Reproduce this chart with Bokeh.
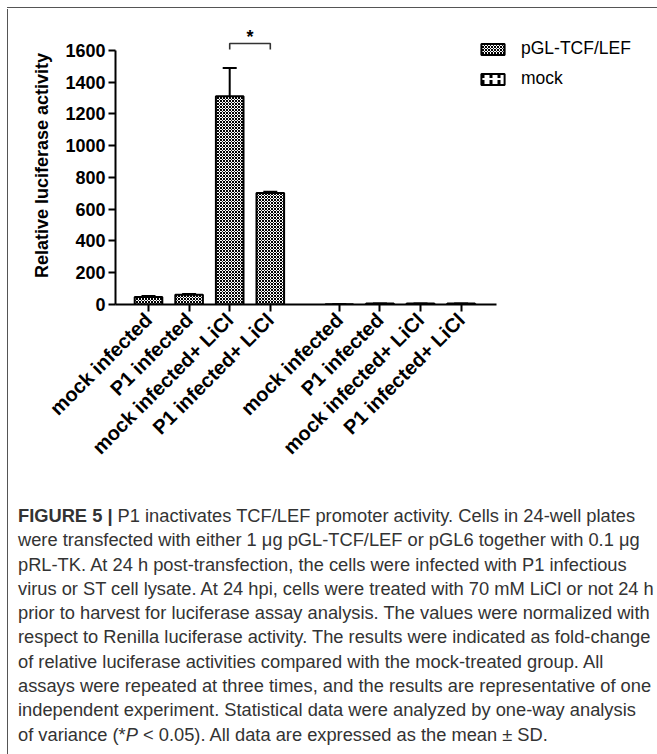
import math

from bokeh.core.properties import value
from bokeh.embed import file_html
from bokeh.layouts import column, row
from bokeh.models import (ColumnDataSource, Div, FixedTicker, Legend,
                          LegendItem, TeeHead, Whisker)
from bokeh.plotting import figure
from bokeh.resources import INLINE

# ---- data -------------------------------------------------------------
conditions = ["mock infected", "P1 infected",
              "mock infected+ LiCl", "P1 infected+ LiCl"]
series = ["pGL-TCF/LEF", "mock"]
pgl_mean = [48, 62, 1311, 703]
pgl_sd = [5, 4, 178, 7]
mock_mean = [1, 6, 6, 6]
mock_sd = [0, 1, 1, 1]
y_ticks = [0, 200, 400, 600, 800, 1000, 1200, 1400, 1600]
sig_pair = (2, 3)          # conditions compared within the pGL-TCF/LEF group
sig_mark = "*"

caption_lines = [
    "<b>FIGURE 5 |</b> P1 inactivates TCF/LEF promoter activity. Cells in 24-well plates",
    "were transfected with either 1 \u03bcg pGL-TCF/LEF or pGL6 together with 0.1 \u03bcg",
    "pRL-TK. At 24 h post-transfection, the cells were infected with P1 infectious",
    "virus or ST cell lysate. At 24 hpi, cells were treated with 70 mM LiCl or not 24 h",
    "prior to harvest for luciferase assay analysis. The values were normalized with",
    "respect to Renilla luciferase activity. The results were indicated as fold-change",
    "of relative luciferase activities compared with the mock-treated group. All",
    "assays were repeated at three times, and the results are representative of one",
    "independent experiment. Statistical data were analyzed by one-way analysis",
    "of variance (*<i>P</i> &lt; 0.05). All data are expressed as the mean \u00b1 SD.",
]

# ---- layout helpers ---------------------------------------------------
GROUP_STEP = 4.7           # distance between the first bars of the two groups
BAR_W = 0.68
FONT = "Liberation Sans"
RULE_COLOR = "#555555"
RULE = f"1.5px solid {RULE_COLOR}"
NO_STRUT = {"font-size": "0px", "line-height": "0px"}

def positions(group):
    return [group * GROUP_STEP + i for i in range(len(conditions))]

x_pgl = positions(0)
x_mock = positions(1)

src_pgl = ColumnDataSource(dict(
    x=x_pgl, top=pgl_mean,
    upper=[m + s for m, s in zip(pgl_mean, pgl_sd)]))
src_mock = ColumnDataSource(dict(
    x=x_mock, top=mock_mean,
    upper=[m + s for m, s in zip(mock_mean, mock_sd)]))

p = figure(width=648, height=486, x_range=(-0.813, 12.537), y_range=(0, 1751),
           output_backend="svg", toolbar_location=None,
           min_border_left=106, min_border_right=0,
           min_border_top=17, min_border_bottom=191, margin=0)
p.outline_line_color = None
p.xgrid.visible = False
p.ygrid.visible = False
p.background_fill_color = "white"
p.border_fill_color = "white"

# bars
r_pgl = p.vbar(x="x", top="top", width=BAR_W, source=src_pgl,
               fill_color="white", line_color="black", line_width=2,
               hatch_pattern="diagonal_cross", hatch_scale=3,
               hatch_weight=1, hatch_color="black")
r_mock = p.vbar(x="x", top="top", width=BAR_W, source=src_mock,
                fill_color="white", line_color="black", line_width=2,
                hatch_pattern="vertical_dash", hatch_scale=8,
                hatch_weight=3, hatch_color="black")

# error bars (upper half only)
for src in (src_pgl, src_mock):
    p.add_layout(Whisker(base="x", lower="top", upper="upper", source=src,
                         line_width=2, line_color="black",
                         upper_head=TeeHead(size=14, line_width=2, line_color="black"),
                         lower_head=None))

# significance bracket
xa, xb = x_pgl[sig_pair[0]], x_pgl[sig_pair[1]]
top_tick = y_ticks[-1]
p.line(x=[xa, xa, xb, xb], y=[top_tick + 6, top_tick + 44, top_tick + 44, top_tick + 6],
       line_width=1.6, line_color="#333333")
p.text(x=[(xa + xb) / 2], y=[top_tick + 88], text=[sig_mark],
       text_align="center", text_baseline="alphabetic",
       text_font=value(FONT), text_font_size="18px", text_font_style="bold",
       text_color="black")

# axes
yax = p.yaxis[0]
yax.bounds = (0, y_ticks[-1])
yax.ticker = FixedTicker(ticks=y_ticks)
yax.minor_tick_line_color = None
yax.major_tick_out = 7
yax.major_tick_in = 0
yax.major_tick_line_width = 2
yax.axis_line_width = 2
yax.major_label_text_font = FONT
yax.major_label_text_font_size = "18px"
yax.major_label_text_font_style = "bold"
yax.major_label_text_color = "black"
yax.major_label_standoff = 3
yax.axis_label = "Relative luciferase activity"
yax.axis_label_text_font = FONT
yax.axis_label_text_font_size = "18px"
yax.axis_label_text_font_style = "bold"
yax.axis_label_text_color = "black"
yax.axis_label_standoff = 10

xax = p.xaxis[0]
all_x = x_pgl + x_mock
xax.bounds = (-0.813, all_x[-1] + 0.875)
xax.ticker = FixedTicker(ticks=all_x)
xax.major_label_overrides = {x: lab for x, lab in zip(all_x, conditions * 2)}
xax.major_label_orientation = math.pi / 4
xax.minor_tick_line_color = None
xax.major_tick_out = 7
xax.major_tick_in = 0
xax.major_tick_line_width = 2
xax.axis_line_width = 2
xax.major_label_text_font = FONT
xax.major_label_text_font_size = "20px"
xax.major_label_text_font_style = "bold"
xax.major_label_text_color = "black"
xax.major_label_standoff = 5

# legend
legend = Legend(items=[LegendItem(label=series[0], renderers=[r_pgl]),
                       LegendItem(label=series[1], renderers=[r_mock])],
                location=(363, 215), glyph_width=29, glyph_height=14,
                label_height=20, label_standoff=14, spacing=9,
                padding=0, margin=0,
                border_line_color=None, background_fill_alpha=0,
                label_text_font=FONT, label_text_font_size="17.5px",
                label_text_color="black")
p.add_layout(legend)

# panel frame: top rule and left rule around the figure and its caption
top_rule = Div(width=657, height=9, margin=0, styles=NO_STRUT, text=(
    "<div style=\"margin-left:7px;margin-top:7px;width:650px;height:0.5px;"
    f"border-top:{RULE};border-left:{RULE};\"></div>"))
left_rule = Div(width=9, height=486, margin=0, styles=NO_STRUT, text=(
    f"<div style=\"margin-left:7px;width:1px;height:486px;border-left:{RULE};\"></div>"))

caption_html = (
    f"<div style=\"margin-left:7px;border-left:{RULE};width:648px;"
    "height:259px;padding-left:10px;padding-top:9px;box-sizing:border-box;"
    "font-family:'Liberation Sans',Arial,sans-serif;font-size:18.3px;"
    "line-height:24.3px;color:#333333;white-space:nowrap;\">"
    + "<br>".join(caption_lines) + "</div>"
)
cap = Div(text=caption_html, width=657, height=259, margin=0)

page = column(top_rule, row(left_rule, p, spacing=0, margin=0), cap,
              spacing=0, margin=0)
open("out.html", "w").write(file_html(page, INLINE))
